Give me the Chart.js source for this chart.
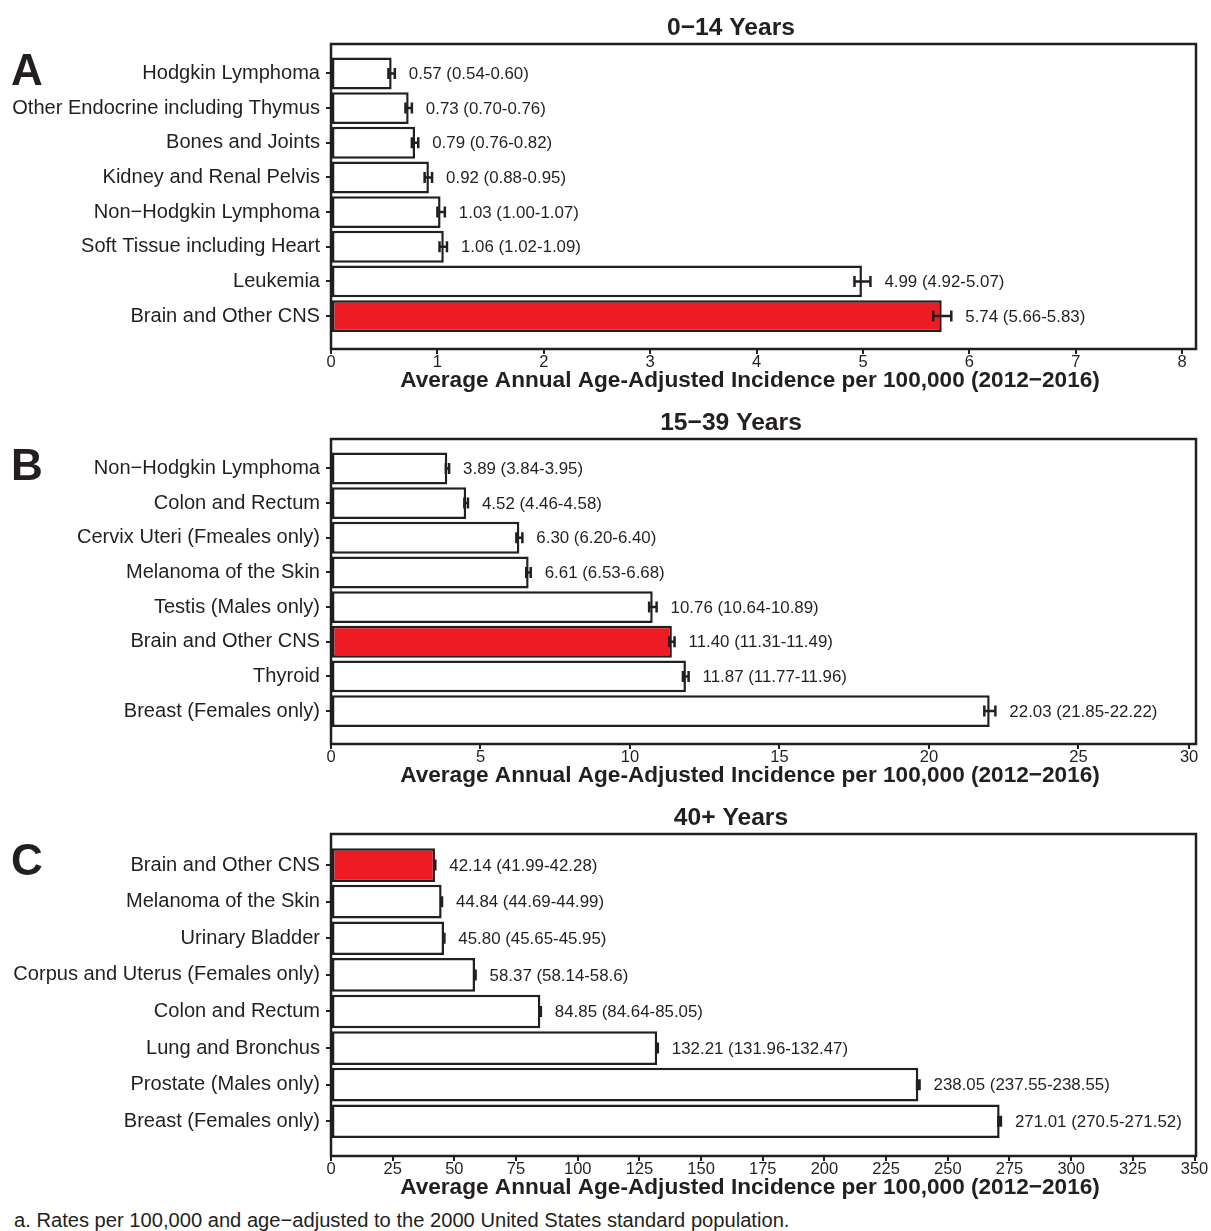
<!DOCTYPE html>
<html>
<head>
<meta charset="utf-8">
<script src="https://cdn.jsdelivr.net/npm/chart.js@4.4.1/dist/chart.umd.min.js"></script>
<style>
  html, body { margin: 0; padding: 0; background: #fff; }
  #wrap { position: relative; width: 1211px; height: 1231px; overflow: hidden; background: #fff; }
  #wrap canvas { position: absolute; left: 0; }
  #note { position: absolute; left: 14px; white-space: nowrap; color: #231F20; line-height: 1; }
</style>
</head>
<body>
<div id="wrap">
  <canvas id="cA" width="1211" height="400" style="top:0px"></canvas>
  <canvas id="cB" width="1211" height="400" style="top:395px"></canvas>
  <canvas id="cC" width="1211" height="416" style="top:790px"></canvas>
  <div id="note">a. Rates per 100,000 and age−adjusted to the 2000 United States standard population.</div>
</div>
<script>
// ---- 0−14 years ----
const catsA = ['Hodgkin Lymphoma', 'Other Endocrine including Thymus', 'Bones and Joints',
  'Kidney and Renal Pelvis', 'Non−Hodgkin Lymphoma', 'Soft Tissue including Heart',
  'Leukemia', 'Brain and Other CNS'];
const rateA = ['0.57', '0.73', '0.79', '0.92', '1.03', '1.06', '4.99', '5.74'];
const lowA  = ['0.54', '0.70', '0.76', '0.88', '1.00', '1.02', '4.92', '5.66'];
const highA = ['0.60', '0.76', '0.82', '0.95', '1.07', '1.09', '5.07', '5.83'];
const tickValsA = [0, 1, 2, 3, 4, 5, 6, 7, 8];
const tickTextA = ['0', '1', '2', '3', '4', '5', '6', '7', '8'];

// ---- 15−39 years ----
const catsB = ['Non−Hodgkin Lymphoma', 'Colon and Rectum', 'Cervix Uteri (Fmeales only)',
  'Melanoma of the Skin', 'Testis (Males only)', 'Brain and Other CNS', 'Thyroid',
  'Breast (Females only)'];
const rateB = ['3.89', '4.52', '6.30', '6.61', '10.76', '11.40', '11.87', '22.03'];
const lowB  = ['3.84', '4.46', '6.20', '6.53', '10.64', '11.31', '11.77', '21.85'];
const highB = ['3.95', '4.58', '6.40', '6.68', '10.89', '11.49', '11.96', '22.22'];
const tickValsB = [0, 5, 10, 15, 20, 25, 28.7];
const tickTextB = ['0', '5', '10', '15', '20', '25', '30'];

// ---- 40+ years ----
const catsC = ['Brain and Other CNS', 'Melanoma of the Skin', 'Urinary Bladder',
  'Corpus and Uterus (Females only)', 'Colon and Rectum', 'Lung and Bronchus',
  'Prostate (Males only)', 'Breast (Females only)'];
const rateC = ['42.14', '44.84', '45.80', '58.37', '84.85', '132.21', '238.05', '271.01'];
const lowC  = ['41.99', '44.69', '45.65', '58.14', '84.64', '131.96', '237.55', '270.5'];
const highC = ['42.28', '44.99', '45.95', '58.6', '85.05', '132.47', '238.55', '271.52'];
const tickValsC = [0, 25, 50, 75, 100, 125, 150, 175, 200, 225, 250, 275, 300, 325, 350];
const tickTextC = ['0', '25', '50', '75', '100', '125', '150', '175', '200', '225', '250',
  '275', '300', '325', '350'];

const HIGHLIGHT = 'Brain and Other CNS';
const AXIS_TITLE = 'Average Annual Age-Adjusted Incidence per 100,000 (2012−2016)';
const INK = '#231F20';
const RED = '#ED1C24';

const SANS = '"Liberation Sans", Arial, Helvetica, sans-serif';

// font sizes chosen so each kind of text spans its intended width
const meas = document.createElement('canvas').getContext('2d');
function fitSize(text, width, family, weight) {
  meas.font = `${weight || 'normal'} 100px ${family}`;
  return 100 * width / meas.measureText(text).width;
}
const catSize   = fitSize('Other Endocrine including Thymus', 308, SANS);
const valSize   = fitSize('0.57 (0.54-0.60)', 120, SANS);
const tickSize  = 16.5;
const titleSize = fitSize('0−14 Years', 128, SANS, 'bold');
const axisSize  = fitSize(AXIS_TITLE, 700, SANS, 'bold');
const noteSize  = fitSize(document.getElementById('note').textContent, 776, SANS);

const note = document.getElementById('note');
note.style.fontFamily = SANS;
note.style.fontSize = noteSize + 'px';
note.style.top = (1222 - noteSize * 0.58) + 'px';

Chart.defaults.color = INK;

function buildPanel(id, p) {
  const n = p.cats.length;
  const vals = p.rate.map(Number);
  const lo = p.low.map(Number);
  const hi = p.high.map(Number);
  const points = vals.map((v, i) => ({ x: v, y: i + 1 }));

  const decor = {
    id: 'decor',
    afterDraw(chart) {
      const { ctx, chartArea: a, scales: { x, y } } = chart;
      ctx.save();
      // confidence interval whiskers
      ctx.strokeStyle = INK;
      ctx.lineWidth = 2.5;
      ctx.lineCap = 'butt';
      const cap = 5.5;
      vals.forEach((v, i) => {
        const yc = y.getPixelForValue(i + 1);
        const x0 = x.getPixelForValue(lo[i]);
        const x1 = x.getPixelForValue(hi[i]);
        ctx.beginPath();
        ctx.moveTo(x0, yc); ctx.lineTo(x1, yc);
        ctx.moveTo(x0, yc - cap); ctx.lineTo(x0, yc + cap);
        ctx.moveTo(x1, yc - cap); ctx.lineTo(x1, yc + cap);
        ctx.stroke();
        // rate and interval text
        ctx.fillStyle = INK;
        ctx.font = `${valSize}px ${SANS}`;
        ctx.textAlign = 'left';
        ctx.textBaseline = 'middle';
        ctx.fillText(`${p.rate[i]} (${p.low[i]}-${p.high[i]})`, x1 + 14, yc + 1);
      });
      // panel frame
      ctx.lineWidth = 2.5;
      ctx.strokeRect(a.left, a.top, a.right - a.left, a.bottom - a.top);
      // panel title and axis title
      ctx.fillStyle = INK;
      ctx.textAlign = 'center';
      ctx.textBaseline = 'middle';
      ctx.font = `bold ${titleSize}px ${SANS}`;
      ctx.fillText(p.title, 731, 28);
      ctx.font = `bold ${axisSize}px ${SANS}`;
      ctx.fillText(AXIS_TITLE, 750, a.bottom + 32);
      // panel letter
      ctx.textAlign = 'left';
      ctx.font = `bold 44px ${SANS}`;
      ctx.fillText(p.letter, 11, 73);
      ctx.restore();
    }
  };

  return new Chart(document.getElementById(id), {
    type: 'bar',
    data: {
      datasets: [{
        data: points,
        backgroundColor: p.cats.map(c => c === HIGHLIGHT ? RED : '#FFFFFF'),
        borderColor: INK,
        borderWidth: 2.5,
        borderSkipped: false,
        barPercentage: 0.92,
        categoryPercentage: 1
      }]
    },
    options: {
      indexAxis: 'y',
      responsive: false,
      animation: false,
      devicePixelRatio: 1,
      events: [],
      layout: { padding: { top: 44, right: 15, left: 0, bottom: 0 } },
      plugins: { legend: { display: false }, tooltip: { enabled: false } },
      scales: {
        x: {
          type: 'linear',
          bounds: 'data',
          offset: false,
          min: 0,
          max: p.max,
          afterBuildTicks: s => { s.ticks = p.tickVals.map(v => ({ value: v })); },
          afterFit: s => { s.height = p.axisH; },
          grid: { display: true, offset: false, drawOnChartArea: false, drawTicks: true,
                  tickLength: 5, color: INK, lineWidth: 2 },
          border: { display: false },
          ticks: {
            autoSkip: false, maxRotation: 0, minRotation: 0, padding: 0, color: INK,
            font: { family: SANS, size: tickSize, lineHeight: 1 },
            callback: (v, i) => p.tickText[i]
          }
        },
        y: {
          type: 'linear',
          bounds: 'data',
          offset: false,
          reverse: true,
          min: 0.15,
          max: n + 0.95,
          afterBuildTicks: s => { s.ticks = p.cats.map((c, i) => ({ value: i + 1 })); },
          afterFit: s => { s.width = 331; },
          grid: { display: true, offset: false, drawOnChartArea: false, drawTicks: true,
                  tickLength: 5, color: INK, lineWidth: 2 },
          border: { display: false },
          ticks: {
            autoSkip: false, padding: 6, color: INK,
            font: { family: SANS, size: catSize },
            callback: v => p.cats[Math.round(v) - 1]
          }
        }
      }
    },
    plugins: [decor]
  });
}

buildPanel('cA', { letter: 'A', title: '0−14 Years', cats: catsA, rate: rateA, low: lowA,
  high: highA, max: 8.13, tickVals: tickValsA, tickText: tickTextA, axisH: 51 });
buildPanel('cB', { letter: 'B', title: '15−39 Years', cats: catsB, rate: rateB, low: lowB,
  high: highB, max: 28.93, tickVals: tickValsB, tickText: tickTextB, axisH: 51 });
buildPanel('cC', { letter: 'C', title: '40+ Years', cats: catsC, rate: rateC, low: lowC,
  high: highC, max: 350.6, tickVals: tickValsC, tickText: tickTextC, axisH: 50 });
</script>
</body>
</html>
